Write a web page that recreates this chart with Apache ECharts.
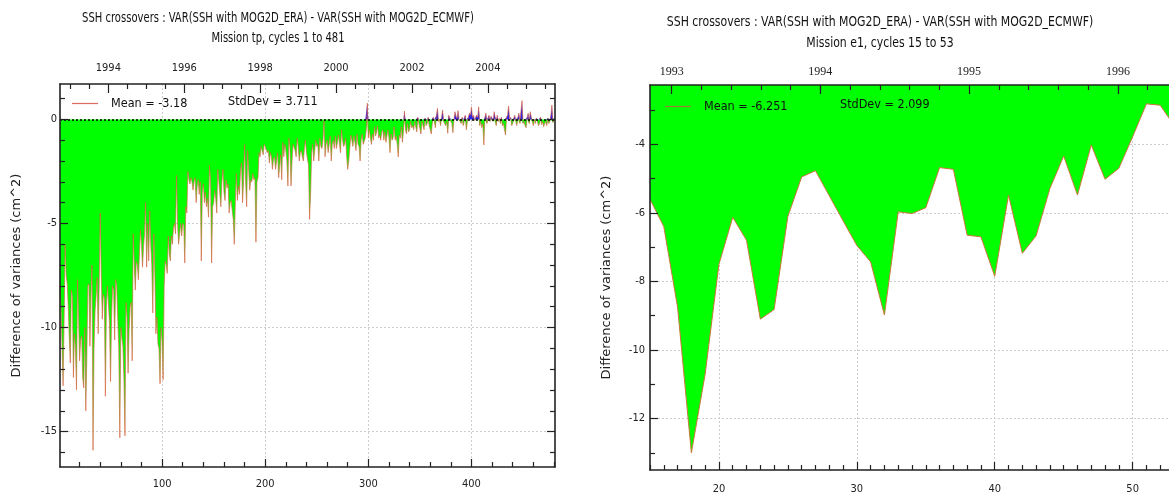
<!DOCTYPE html>
<html><head><meta charset="utf-8">
<script src="https://cdn.jsdelivr.net/npm/echarts@6/dist/echarts.min.js"></script>
<style>html,body{margin:0;padding:0;background:#fff}#c{width:1169px;height:492px}</style>
</head><body><div id="c"></div>
<script>
// ---------------- data ----------------
// Mission tp: difference of variances per cycle 1..481
const tpDiff = [
-8.0,-9.0,-11.0,-12.8,-9.5,-6.0,-7.5,-7.9,-9.0,-10.5,
-11.7,-8.2,-8.5,-12.4,-10.3,-11.0,-13.0,-7.7,-9.5,-11.6,
-10.6,-10.4,-12.4,-12.9,-10.0,-14.0,-11.5,-8.0,-7.9,-10.9,
-8.5,-7.0,-15.9,-11.0,-9.2,-8.5,-7.6,-10.3,-8.0,-4.5,
-7.5,-9.6,-8.4,-8.6,-13.3,-9.0,-8.0,-8.9,-9.8,-12.6,
-9.5,-8.0,-8.2,-10.6,-7.7,-8.0,-9.6,-11.0,-15.3,-10.0,
-10.5,-10.9,-12.5,-15.2,-8.8,-9.5,-12.2,-10.1,-9.0,-8.8,
-11.6,-5.5,-7.0,-8.2,-6.8,-7.0,-7.7,-6.5,-5.3,-6.0,
-7.1,-6.1,-5.5,-4.0,-7.1,-5.0,-6.8,-4.4,-6.0,-7.0,
-9.3,-5.5,-7.5,-10.3,-9.5,-10.8,-11.0,-12.7,-10.0,-10.6,
-12.5,-8.0,-6.8,-7.0,-7.4,-5.6,-6.5,-6.8,-5.6,-6.0,
-5.2,-5.0,-5.5,-2.7,-5.0,-6.0,-5.5,-5.0,-5.6,-5.0,
-5.1,-6.9,-4.2,-4.5,-2.5,-2.9,-3.1,-2.8,-3.0,-3.4,
-3.0,-2.8,-4.0,-3.2,-2.9,-3.6,-3.0,-6.8,-3.5,-3.1,
-4.0,-3.5,-4.2,-3.8,-4.7,-2.2,-3.0,-6.9,-4.2,-4.0,
-3.4,-3.8,-4.5,-2.4,-3.0,-3.6,-4.2,-3.0,-2.4,-3.5,
-3.9,-2.9,-3.3,-3.1,-4.5,-4.0,-3.9,-4.4,-4.8,-6.0,
-4.0,-2.6,-3.9,-3.2,-3.6,-2.5,-2.1,-4.0,-3.0,-1.2,
-3.0,-4.2,-1.5,-2.5,-3.4,-2.9,-3.0,-2.6,-2.9,-2.8,
-5.9,-3.0,-2.8,-1.6,-1.8,-1.3,-1.5,-1.7,-1.2,-1.3,
-1.3,-1.6,-1.5,-2.1,-1.6,-1.8,-2.4,-1.9,-1.8,-2.4,
-2.0,-1.6,-2.8,-2.8,-1.7,-2.9,-1.1,-1.8,-1.2,-1.5,
-2.0,-3.2,-0.9,-1.4,-3.2,-2.0,-1.2,-1.2,-1.5,-1.8,
-0.9,-1.3,-2.0,-1.6,-1.5,-1.8,-2.0,-1.4,-1.0,-1.6,
-1.6,-2.2,-4.8,-3.6,-1.6,-1.2,-2.0,-1.5,-1.0,-1.3,
-1.2,-2.0,-0.9,-1.3,-1.4,-1.0,-0.05,-1.8,-1.2,-1.0,
-1.6,-1.2,-0.8,-2.0,-1.2,-1.0,-1.4,-0.8,-1.4,-1.1,
-0.75,-1.2,-1.6,-0.5,-1.0,-1.3,-1.2,-0.9,-1.8,-2.4,
-2.0,-1.4,-0.75,-1.0,-1.3,-0.8,-1.1,-1.5,-0.7,-1.2,
-1.3,-2.0,-1.0,-0.7,-1.2,-1.2,-0.9,-0.5,0.78,-0.9,
-0.5,-0.9,-1.2,-0.7,-1.0,-0.35,-0.8,-0.6,-0.3,-0.9,
-0.75,-1.0,-0.6,-0.5,-1.0,-0.6,-1.1,-0.8,-0.5,-0.9,
-1.6,-0.7,-1.0,-0.9,-0.35,-1.0,-0.8,-1.2,-1.8,-0.75,
-0.9,-0.35,-1.1,-0.6,0.4,-0.5,-0.7,-0.2,-0.6,-0.5,
-0.1,-0.4,-0.3,-0.5,-0.1,-0.35,-0.6,0.1,-0.2,-0.45,
-0.7,-0.1,-0.3,-0.5,0.05,-0.3,-0.2,0.1,-0.3,-0.5,
-0.7,-0.2,0.1,-0.1,-0.4,0.2,0.53,-0.1,0.0,-0.3,
0.1,0.45,-0.1,-0.2,-0.3,-0.1,-0.67,0.2,0.05,-0.1,
-0.2,-0.64,0.0,0.37,0.15,0.05,0.42,0.0,-0.1,-0.2,
0.1,-0.3,-0.1,0.2,-0.5,-0.1,0.1,0.3,0.2,0.6,
0.1,0.2,-0.05,-0.1,0.2,0.1,0.6,-0.3,-0.1,-0.4,
-0.2,-1.23,0.1,0.3,-0.2,0.0,0.2,-0.1,0.15,0.1,
-0.1,0.37,0.1,-0.3,0.2,-0.1,0.05,-0.2,0.1,-0.3,
-0.2,-0.5,-0.75,0.1,0.2,0.64,0.0,0.1,-0.3,-0.2,
0.05,0.2,-0.1,-0.3,0.1,0.3,-0.2,0.4,0.9,-0.2,
-0.1,-0.3,-0.4,0.1,0.3,-0.2,0.37,0.1,-0.1,-0.3,
0.0,-0.2,0.05,-0.1,-0.3,-0.2,0.1,-0.25,-0.1,-0.35,
-0.2,-0.1,-0.3,0.05,-0.2,-0.1,0.2,0.69,-0.15,-0.2,0.1
];
const tpFirstCycle = 1;

// Mission e1: cycles 15..53
const e1Diff = [
-5.6,-6.4,-8.75,-13.0,-10.7,-7.5,-6.13,-6.8,-9.1,-8.82,
-6.1,-4.95,-4.77,-5.5,-6.23,-6.95,-7.43,-8.98,-5.97,-6.02,
-5.85,-4.68,-4.73,-6.65,-6.7,-7.85,-5.48,-7.18,-6.67,-5.29,
-4.34,-5.48,-4.02,-5.02,-4.7,-3.78,-2.82,-2.86,-3.45
];
const e1FirstCycle = 15;

const titleLine1 = 'SSH crossovers : VAR(SSH with MOG2D_ERA) - VAR(SSH with MOG2D_ECMWF)';
const tpTitle2 = 'Mission tp, cycles 1 to 481';
const e1Title2 = 'Mission e1, cycles 15 to 53';
const yName = 'Difference of variances (cm^2)';
const tpStats = ['Mean = -3.18', 'StdDev = 3.711'];
const e1Stats = ['Mean = -6.251', 'StdDev = 2.099'];

// tick labels
const tpXLabels = [100, 200, 300, 400];
const tpYLabels = [-15, -10, -5, 0];
const tpYears = ['1994', '1996', '1998', '2000', '2002', '2004'];
const tpYearCycles = [47.9, 121.5, 195.1, 268.7, 342.3, 415.9];
const e1XLabels = [20, 30, 40, 50];
const e1YLabels = [-12, -10, -8, -6, -4];
const e1Years = ['1993', '1994', '1995', '1996'];
const e1YearCycles = [16.57, 27.35, 38.14, 48.94];

// ---------------- helpers ----------------
const AX = '#222';
const NUMFONT = '"DejaVu Sans Condensed","DejaVu Sans",sans-serif';
const TXTFONT = '"DejaVu Sans Condensed","DejaVu Sans",sans-serif';

function range(a, b, s) { const r = []; for (let v = a; v <= b + 1e-9; v += s) r.push(+v.toFixed(4)); return r; }
function without(arr, ex) { return arr.filter(v => !ex.some(e => Math.abs(e - v) < 1e-6)); }
function nearestLabel(vals, labels) {
  return v => { let bi = 0; vals.forEach((c, i) => { if (Math.abs(c - v) < Math.abs(vals[bi] - v)) bi = i; }); return labels[bi]; };
}

function tickAxis(o) {
  return {
    type: 'value', gridIndex: o.grid, position: o.pos, min: o.min, max: o.max, z: 10,
    axisLine: { show: !!o.line, onZero: false, lineStyle: { color: AX, width: 1.6 } },
    axisTick: { show: true, inside: true, length: o.len, customValues: o.ticks, lineStyle: { color: AX, width: 1.2 } },
    axisLabel: o.labels ? {
      show: true, customValues: o.labels, formatter: o.fmt || (v => String(v)),
      color: '#222', fontSize: o.fs || 11, fontFamily: o.ff || NUMFONT, margin: o.margin == null ? 8 : o.margin
    } : { show: false },
    splitLine: { show: false },
    name: o.name, nameLocation: 'middle', nameGap: o.nameGap, nameRotate: 90,
    nameTextStyle: { fontFamily: '"DejaVu Sans",sans-serif', fontSize: 13, color: '#222' }
  };
}
function splitAxis(o) {
  return {
    type: 'value', gridIndex: o.grid, position: o.pos, min: o.min, max: o.max, z: 0,
    axisLine: { show: false }, axisTick: { show: false, customValues: o.ticks }, axisLabel: { show: false },
    splitLine: { show: true, lineStyle: { color: '#cdcdcd', width: 1, type: [2, 2] } }
  };
}

// ---------------- build ----------------
const tpX = tpDiff.map((v, i) => tpFirstCycle + i);
const e1X = e1Diff.map((v, i) => e1FirstCycle + i);
const TP = { xmin: 1, xmax: 481, ymin: -16.7, ymax: 1.7 };
const E1 = { xmin: 15, xmax: 53, ymin: -13.5, ymax: -2.27 };

const tpYearMinor = without(range(tpYearCycles[0] - 36.8, 481, 18.4).filter(v => v >= 1), tpYearCycles);
const e1YearMinor = without(range(e1YearCycles[0] - 2.157, 53, 2.157), e1YearCycles).filter(v => v > 15);

const xAxes = [
  // grid 0 (tp)
  tickAxis({ grid: 0, pos: 'bottom', min: TP.xmin, max: TP.xmax, line: true, len: 8, ticks: tpXLabels, labels: tpXLabels, margin: 12 }),
  tickAxis({ grid: 0, pos: 'bottom', min: TP.xmin, max: TP.xmax, len: 5, ticks: without(range(20, 480, 20), tpXLabels) }),
  tickAxis({ grid: 0, pos: 'top', min: TP.xmin, max: TP.xmax, line: true, len: 9, ticks: tpYearCycles, labels: tpYearCycles,
             fmt: nearestLabel(tpYearCycles, tpYears), margin: 10 }),
  tickAxis({ grid: 0, pos: 'top', min: TP.xmin, max: TP.xmax, len: 5, ticks: tpYearMinor }),
  splitAxis({ grid: 0, pos: 'bottom', min: TP.xmin, max: TP.xmax, ticks: tpXLabels }),
  // grid 1 (e1)
  tickAxis({ grid: 1, pos: 'bottom', min: E1.xmin, max: E1.xmax, line: true, len: 8, ticks: e1XLabels, labels: e1XLabels, margin: 14 }),
  tickAxis({ grid: 1, pos: 'bottom', min: E1.xmin, max: E1.xmax, len: 5, ticks: without(range(15, 53, 1), e1XLabels) }),
  tickAxis({ grid: 1, pos: 'top', min: E1.xmin, max: E1.xmax, line: true, len: 9, ticks: e1YearCycles, labels: e1YearCycles,
             fmt: nearestLabel(e1YearCycles, e1Years), ff: '"Liberation Serif","DejaVu Serif",serif', fs: 12, margin: 7 }),
  tickAxis({ grid: 1, pos: 'top', min: E1.xmin, max: E1.xmax, len: 5, ticks: e1YearMinor }),
  splitAxis({ grid: 1, pos: 'bottom', min: E1.xmin, max: E1.xmax, ticks: e1XLabels })
];
const yAxes = [
  tickAxis({ grid: 0, pos: 'left', min: TP.ymin, max: TP.ymax, line: true, len: 8, ticks: tpYLabels, labels: tpYLabels,
             name: yName, nameGap: 37, margin: 3 }),
  tickAxis({ grid: 0, pos: 'left', min: TP.ymin, max: TP.ymax, len: 5, ticks: without(range(-16, 1, 1), tpYLabels) }),
  tickAxis({ grid: 0, pos: 'right', min: TP.ymin, max: TP.ymax, line: true, len: 8, ticks: tpYLabels }),
  tickAxis({ grid: 0, pos: 'right', min: TP.ymin, max: TP.ymax, len: 5, ticks: without(range(-16, 1, 1), tpYLabels) }),
  splitAxis({ grid: 0, pos: 'left', min: TP.ymin, max: TP.ymax, ticks: [-15, -10, -5] }),
  tickAxis({ grid: 1, pos: 'left', min: E1.ymin, max: E1.ymax, line: true, len: 8, ticks: e1YLabels, labels: e1YLabels,
             name: yName, nameGap: 37, margin: 5 }),
  tickAxis({ grid: 1, pos: 'left', min: E1.ymin, max: E1.ymax, len: 5, ticks: without(range(-13, -3, 1), e1YLabels) }),
  splitAxis({ grid: 1, pos: 'left', min: E1.ymin, max: E1.ymax, ticks: e1YLabels })
];

const LINE = '#d9603f';
const series = [
  { type: 'line', xAxisIndex: 0, yAxisIndex: 0, silent: true, showSymbol: false, z: 2,
    data: tpX.map((c, i) => [c, Math.min(tpDiff[i], 0)]), lineStyle: { width: 0 },
    areaStyle: { color: '#00ff00', opacity: 1 } },
  { type: 'line', xAxisIndex: 0, yAxisIndex: 0, silent: true, showSymbol: false, z: 2,
    data: tpX.map((c, i) => [c, Math.max(tpDiff[i], 0)]), lineStyle: { width: 0 },
    areaStyle: { color: '#2a22e8', opacity: 1 } },
  { name: tpStats[0], type: 'line', xAxisIndex: 0, yAxisIndex: 0, silent: true, showSymbol: false, z: 3,
    data: tpX.map((c, i) => [c, tpDiff[i]]), lineStyle: { color: LINE, width: 0.8, opacity: 0.8 }, itemStyle: { color: '#e06a60' },
    markLine: { silent: true, symbol: 'none', label: { show: false }, animation: false,
      lineStyle: { color: '#000', type: [2, 2], width: 1.5, opacity: 1 }, data: [{ yAxis: 0 }] } },
  { name: e1Stats[0], type: 'line', xAxisIndex: 5, yAxisIndex: 5, silent: true, showSymbol: false, z: 3,
    data: e1X.map((c, i) => [c, e1Diff[i]]), lineStyle: { color: '#c8783a', width: 1 }, itemStyle: { color: '#9a7e3a' },
    areaStyle: { color: '#00ff00', opacity: 1, origin: 'end' } }
];

const legendText = { fontFamily: TXTFONT, fontSize: 12.5, color: '#111', padding: [0, 0, 0, 8] };
function title(text, x, y, sx) {
  return { type: 'text', x: x, y: y, scaleX: sx, z: 20,
           style: { text: text, font: '14px ' + TXTFONT, fill: '#111', align: 'center', verticalAlign: 'middle' } };
}
const option = {
  animation: false,
  backgroundColor: '#fff',
  grid: [
    { left: 60, top: 84, width: 495, height: 383, outerBoundsMode: 'none', containLabel: false },
    { left: 650, top: 85, width: 524, height: 385, outerBoundsMode: 'none', containLabel: false }
  ],
  xAxis: xAxes,
  yAxis: yAxes,
  legend: [
    { data: [tpStats[0]], left: 67, top: 92, icon: 'rect', itemWidth: 26, itemHeight: 1.2, textStyle: legendText, selectedMode: false },
    { data: [e1Stats[0]], left: 660, top: 95, icon: 'rect', itemWidth: 26, itemHeight: 1.2, textStyle: legendText, selectedMode: false }
  ],
  graphic: [
    { type: 'text', left: 228, top: 95, z: 20, style: { text: tpStats[1], font: '12.5px ' + TXTFONT, fill: '#111' } },
    { type: 'text', left: 840, top: 98, z: 20, style: { text: e1Stats[1], font: '12.5px ' + TXTFONT, fill: '#111' } },
    title(titleLine1, 278, 18, 0.795),
    title(tpTitle2, 278, 38, 0.795),
    title(titleLine1, 880, 22, 0.865),
    title(e1Title2, 880, 43, 0.865)
  ],
  series: series
};
const chart = echarts.init(document.getElementById('c'), null, { renderer: 'canvas' });
chart.setOption(option);
</script>
</body></html>
